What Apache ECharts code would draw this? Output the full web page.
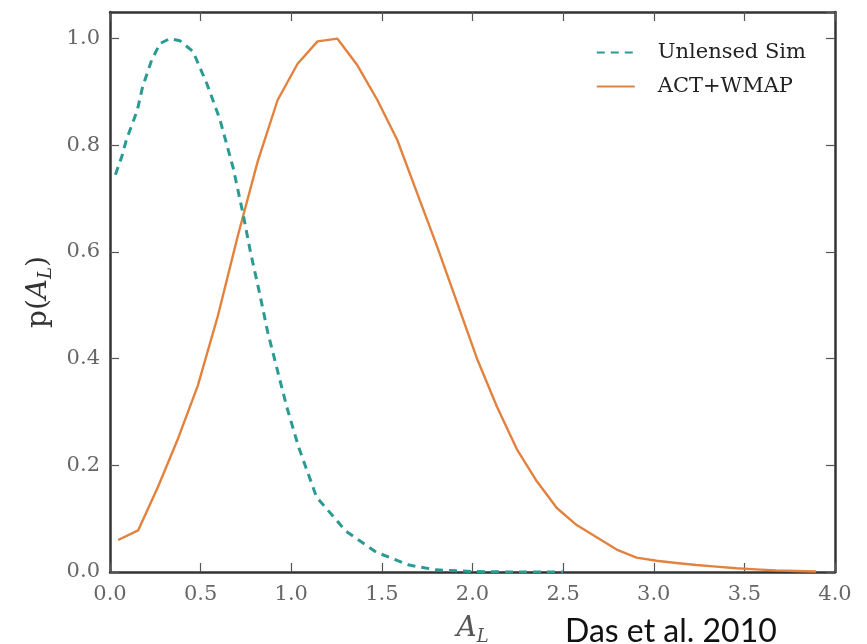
<!DOCTYPE html>
<html>
<head>
<meta charset="utf-8">
<script src="https://cdn.jsdelivr.net/npm/echarts@6/dist/echarts.min.js"></script>
<style>html,body{margin:0;padding:0;background:#fff}#c{width:867px;height:644px}</style>
</head>
<body>
<div id="c"></div>
<script>
// Unlensed Sim (dashed teal): [A_L, p]
const unlensedX = [0.03, 0.066, 0.09, 0.15, 0.18, 0.23, 0.276, 0.33, 0.386, 0.458, 0.535, 0.605, 0.68, 0.735, 0.775, 0.827, 0.87, 0.92, 0.975, 1.04, 1.14, 1.23, 1.3, 1.47, 1.65, 1.8, 2.0, 2.2, 2.5];
const unlensedY = [0.745, 0.78, 0.81, 0.865, 0.91, 0.96, 0.991, 1.0, 0.996, 0.976, 0.915, 0.85, 0.757, 0.67, 0.60, 0.52, 0.45, 0.383, 0.31, 0.235, 0.14, 0.105, 0.077, 0.037, 0.013, 0.004, 0.001, 0.0, 0.0];
// ACT+WMAP (solid orange)
const actX = [0.045, 0.155, 0.265, 0.375, 0.485, 0.595, 0.705, 0.815, 0.925, 1.035, 1.145, 1.255, 1.365, 1.475, 1.585, 1.695, 1.805, 1.915, 2.025, 2.135, 2.245, 2.355, 2.465, 2.575, 2.685, 2.795, 2.905, 3.015, 3.125, 3.235, 3.345, 3.455, 3.565, 3.675, 3.785, 3.895];
const actY = [0.06, 0.078, 0.16, 0.25, 0.35, 0.48, 0.63, 0.77, 0.885, 0.953, 0.995, 1.0, 0.95, 0.885, 0.81, 0.71, 0.61, 0.505, 0.40, 0.31, 0.23, 0.17, 0.12, 0.088, 0.065, 0.042, 0.027, 0.021, 0.017, 0.013, 0.01, 0.007, 0.005, 0.003, 0.002, 0.001];
const seriesNames = ['Unlensed Sim', 'ACT+WMAP'];
const xTicks = [0, 0.5, 1.0, 1.5, 2.0, 2.5, 3.0, 3.5, 4.0];
const yTicks = [0, 0.2, 0.4, 0.6, 0.8, 1.0];

const zip = (xs, ys) => xs.map((x, i) => [x, ys[i]]);
const serif = 'DejaVu Serif';
const frame = '#333';
const tickLabel = {fontFamily: serif, fontSize: 21, color: '#666', formatter: v => v.toFixed(1)};

const chart = echarts.init(document.getElementById('c'), null, {renderer: 'canvas'});
const axisBase = {
  axisLine: {show: true, onZero: false, lineStyle: {color: frame, width: 2.5}},
  axisTick: {show: true, inside: true, length: 9, lineStyle: {color: '#555', width: 1.2}},
  splitLine: {show: false}
};
chart.setOption({
  animation: false,
  backgroundColor: '#fff',
  grid: {left: 110, right: 32, top: 12, bottom: 72, containLabel: false, outerBoundsMode: 'none'},
  legend: {
    orient: 'vertical', right: 56, top: 37, itemWidth: 38, itemHeight: 14, itemGap: 13,
    itemStyle: {color: 'rgba(0,0,0,0)', borderWidth: 0, opacity: 0},
    textStyle: {fontFamily: serif, fontSize: 21, color: '#222', padding: [0, 0, 0, 18]},
    data: seriesNames
  },
  xAxis: [
    Object.assign({}, axisBase, {
      type: 'value', min: 0, max: 4, interval: 0.5, position: 'bottom',
      axisLabel: Object.assign({margin: 12}, tickLabel),
      name: '{i|A}{s|L}', nameLocation: 'middle', nameGap: 40,
      nameTextStyle: {rich: {
        i: {fontFamily: serif, fontStyle: 'italic', fontSize: 28, color: '#555', lineHeight: 34},
        s: {fontFamily: serif, fontStyle: 'italic', fontSize: 18, color: '#555', lineHeight: 14, verticalAlign: 'bottom'}
      }}
    }),
    Object.assign({}, axisBase, {
      type: 'value', min: 0, max: 4, interval: 0.5, position: 'top',
      axisLabel: {show: false}
    })
  ],
  yAxis: [
    Object.assign({}, axisBase, {
      type: 'value', min: 0, max: 1.05, interval: 0.2, position: 'left',
      axisLabel: Object.assign({margin: 10, showMaxLabel: false}, tickLabel),
      name: '{n|p(}{i|A}{s|L}{n|)}', nameLocation: 'middle', nameGap: 54, nameRotate: 90,
      nameTextStyle: {rich: {
        n: {fontFamily: serif, fontSize: 28, color: '#333', lineHeight: 34},
        i: {fontFamily: serif, fontStyle: 'italic', fontSize: 28, color: '#333', lineHeight: 34},
        s: {fontFamily: serif, fontStyle: 'italic', fontSize: 18, color: '#333', lineHeight: 14, verticalAlign: 'bottom'}
      }}
    }),
    Object.assign({}, axisBase, {
      type: 'value', min: 0, max: 1.05, interval: 0.2, position: 'right',
      axisLabel: {show: false}
    })
  ],
  series: [
    {
      name: seriesNames[0], type: 'line', data: zip(unlensedX, unlensedY), symbol: 'none',
      smooth: false, lineStyle: {color: '#2a9a92', width: 3, type: [8, 6]}, itemStyle: {color: '#2a9a92'}, z: 3
    },
    {
      name: seriesNames[1], type: 'line', data: zip(actX, actY), symbol: 'none',
      smooth: false, lineStyle: {color: '#e3823f', width: 2.4}, itemStyle: {color: '#e3823f'}, z: 2
    }
  ],
  graphic: [
    {type: 'text', left: 565, top: 616, style: {text: 'Das et al. 2010', fontFamily: 'Lato', fontSize: 32, fill: '#111'}}
  ]
});
</script>
</body>
</html>
